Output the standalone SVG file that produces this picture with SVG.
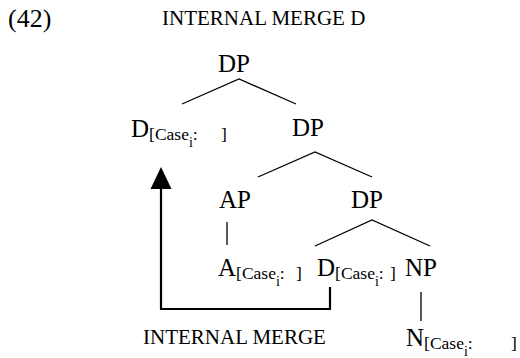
<svg xmlns="http://www.w3.org/2000/svg" width="520" height="358" viewBox="0 0 520 358">
<style>
text{font-family:"Liberation Serif","Times New Roman",serif;fill:#000}
.big{font-size:25px}
.cap{font-size:21px}
.sub{font-size:17.5px}
.ss{font-size:14px}
.edge{stroke:#000;stroke-width:1.3;fill:none}
.arrow{stroke:#000;stroke-width:2.2;fill:none}
</style>
<text x="8" y="27" style="font-size:26px">(42)</text>
<text class="cap" x="162" y="25">INTERNAL MERGE D</text>
<g id="connectors">
<polyline class="edge" points="182,104 239,79 296,104"/>
<polyline class="edge" points="258,177 315,152 372,177"/>
<line class="edge" x1="227" y1="222" x2="227" y2="245"/>
<polyline class="edge" points="315,246 372,220 430,246"/>
<line class="edge" x1="421" y1="292" x2="421" y2="321"/>
<path class="arrow" d="M330,287 V309 H161 V186"/>
<polygon points="161,167 150.5,189 171.5,189" fill="#000"/>
</g>
<g id="dp1"><text class="big" x="234" y="72" text-anchor="middle">DP</text></g>
<g id="d1"><text class="big" x="131" y="137">D<tspan class="sub" dy="3">[Case</tspan><tspan class="ss" dy="7">i</tspan><tspan class="sub" dy="-7">:</tspan><tspan class="sub" x="221">]</tspan></text></g>
<g id="dp2"><text class="big" x="308" y="136" text-anchor="middle">DP</text></g>
<g id="ap"><text class="big" x="235" y="208" text-anchor="middle">AP</text></g>
<g id="dp3"><text class="big" x="367" y="208" text-anchor="middle">DP</text></g>
<g id="a"><text class="big" x="218" y="276">A<tspan class="sub" dy="3">[Case</tspan><tspan class="ss" dy="7">i</tspan><tspan class="sub" dy="-7">:</tspan><tspan class="sub" x="296">]</tspan></text></g>
<g id="d2"><text class="big" x="317" y="276">D<tspan class="sub" dy="3">[Case</tspan><tspan class="ss" dy="7">i</tspan><tspan class="sub" dy="-7">:</tspan><tspan class="sub" x="390">]</tspan></text></g>
<g id="np"><text class="big" x="421" y="276" text-anchor="middle">NP</text></g>
<g id="n"><text class="big" x="406" y="346">N<tspan class="sub" dy="3">[Case</tspan><tspan class="ss" dy="7">i</tspan><tspan class="sub" dy="-7">:</tspan><tspan class="sub" x="511">]</tspan></text></g>
<text class="cap" x="143" y="344">INTERNAL MERGE</text>
</svg>
